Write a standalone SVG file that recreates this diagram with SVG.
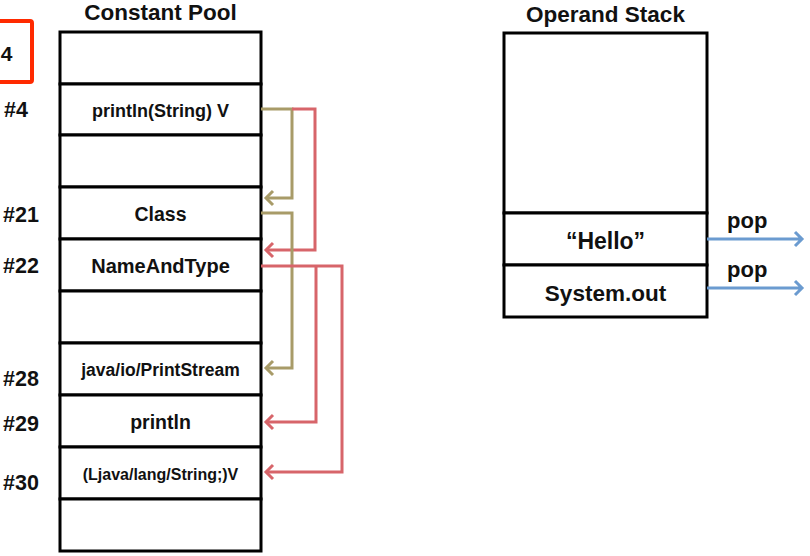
<svg xmlns="http://www.w3.org/2000/svg" width="810" height="556" viewBox="0 0 810 556">
<style>
text{font-family:"Liberation Sans",Arial,sans-serif;font-weight:bold;fill:#111}
.cell{fill:#fff;stroke:#000;stroke-width:3}
.mid{text-anchor:middle}
.olive{fill:none;stroke:#a89b68;stroke-width:3;stroke-linejoin:miter}
.red{fill:none;stroke:#d7656a;stroke-width:3;stroke-linejoin:miter}
.blue{fill:none;stroke:#6b9bd0;stroke-width:3}
</style>
<rect width="810" height="556" fill="#fff"/>
<g id="highlight">
<rect x="-20" y="21" width="52" height="61" fill="none" stroke="#ff2a00" stroke-width="4" rx="2"/>
<text x="12.5" y="61" font-size="21" text-anchor="end">4</text>
</g>
<g id="constant-pool">
<text x="160.5" y="20" font-size="22.5" class="mid">Constant Pool</text>
<rect class="cell" x="60" y="32" width="201" height="52"/>
<g id="cp4"><rect class="cell" x="60" y="84" width="201" height="51"/><text x="160.5" y="117" font-size="18" class="mid">println(String) V</text></g>
<rect class="cell" x="60" y="135" width="201" height="52"/>
<g id="cp21"><rect class="cell" x="60" y="187" width="201" height="52"/><text x="160.5" y="221" font-size="19.5" class="mid">Class</text></g>
<g id="cp22"><rect class="cell" x="60" y="239" width="201" height="52"/><text x="160.5" y="273" font-size="20" class="mid">NameAndType</text></g>
<rect class="cell" x="60" y="291" width="201" height="52"/>
<g id="cp28"><rect class="cell" x="60" y="343" width="201" height="52"/><text x="160.5" y="376" font-size="17.5" class="mid">java/io/PrintStream</text></g>
<g id="cp29"><rect class="cell" x="60" y="395" width="201" height="52"/><text x="160.5" y="429" font-size="19.5" class="mid">println</text></g>
<g id="cp30"><rect class="cell" x="60" y="447" width="201" height="52"/><text x="160.5" y="480" font-size="16" class="mid">(Ljava/lang/String;)V</text></g>
<rect class="cell" x="60" y="499" width="201" height="52"/>
</g>
<g id="indices">
<text x="4" y="117" font-size="21.5">#4</text>
<text x="3" y="222" font-size="21.5">#21</text>
<text x="3" y="273" font-size="21.5">#22</text>
<text x="3" y="386" font-size="21.5">#28</text>
<text x="3" y="431" font-size="21.5">#29</text>
<text x="3" y="490" font-size="21.5">#30</text>
</g>
<g id="operand-stack">
<text x="605.5" y="22" font-size="22.5" class="mid">Operand Stack</text>
<rect class="cell" x="504" y="33" width="203" height="180"/>
<g id="hello"><rect class="cell" x="504" y="213" width="203" height="52"/><text x="605.5" y="249" font-size="23" class="mid">“Hello”</text></g>
<g id="sysout"><rect class="cell" x="504" y="265" width="203" height="52"/><text x="605.5" y="301" font-size="22.5" class="mid">System.out</text></g>
</g>
<g id="connectors">
<path class="olive" d="M261 109H292V198H266"/>
<path class="olive" d="M273 191L266 198L273 205"/>
<path class="red" d="M292 109H315V250H266"/>
<path class="red" d="M273 243L266 250L273 257"/>
<path class="olive" d="M261 213H292V368H266"/>
<path class="olive" d="M273 361L266 368L273 375"/>
<path class="red" d="M261 266H342V472H266"/>
<path class="red" d="M273 465L266 472L273 479"/>
<path class="red" d="M316 266V422H266"/>
<path class="red" d="M273 415L266 422L273 429"/>
<path class="blue" d="M707 239H802M795 232L802 239L795 246"/>
<path class="blue" d="M707 288H802M795 281L802 288L795 295"/>
<text x="727" y="228" font-size="22">pop</text>
<text x="727" y="277" font-size="22">pop</text>
</g>
</svg>
